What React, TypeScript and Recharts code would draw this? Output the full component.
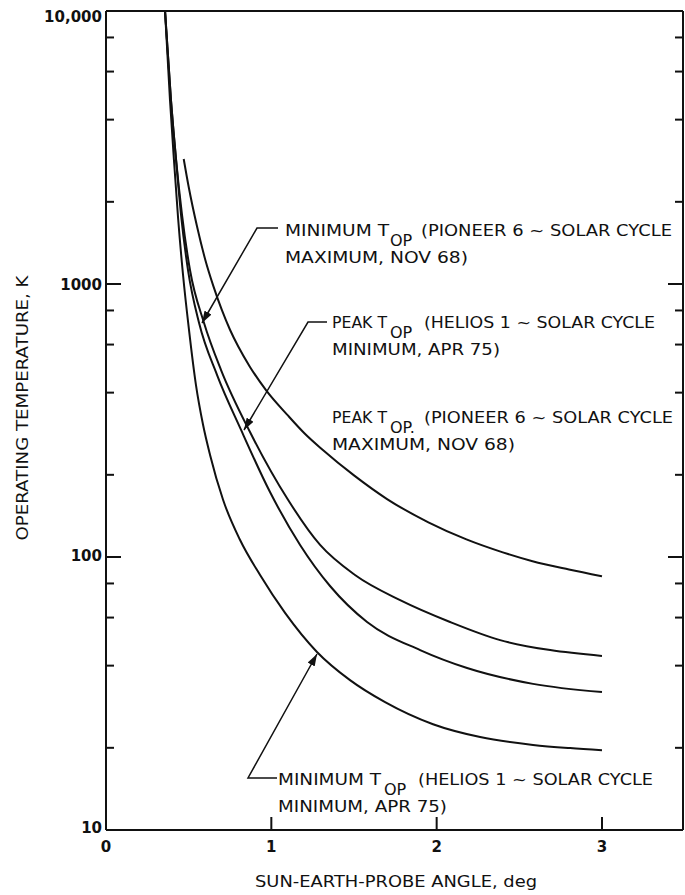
import React from 'react'
import { LineChart, Line, XAxis, YAxis } from 'recharts'

const angleTicks = [0, 1, 2, 3]
const tempMajorTicks = [10, 100, 1000, 10000]
const tempMinorTicks = [20, 40, 60, 80, 200, 400, 600, 800, 2000, 4000, 6000, 8000]

// PEAK T_OP (Pioneer 6, solar cycle maximum, Nov 68)
const peakPioneerAngle = [0.47, 0.5, 0.55, 0.6, 0.65, 0.7, 0.75, 0.8, 0.87, 0.97, 1.1, 1.2, 1.31, 1.5, 1.7, 1.95, 2.18, 2.4, 2.58, 2.8, 3.0]
const peakPioneerTemp = [2870, 2270, 1630, 1230, 980, 805, 680, 590, 498, 407, 330, 284, 247, 199, 163, 134, 116, 104, 96.5, 90, 85]

// MINIMUM T_OP (Pioneer 6, solar cycle maximum, Nov 68)
const minPioneerAngle = [0.357, 0.393, 0.424, 0.46, 0.508, 0.593, 0.696, 0.871, 1.101, 1.295, 1.506, 1.779, 2.081, 2.384, 2.687, 3.0]
const minPioneerTemp = [10000, 4720, 2845, 1789, 1125, 720, 484, 287, 162, 110.7, 85.9, 69.5, 57.8, 49.6, 45.6, 43.4]

// PEAK T_OP (Helios 1, solar cycle minimum, Apr 75)
const peakHeliosAngle = [0.357, 0.393, 0.424, 0.454, 0.496, 0.563, 0.672, 0.817, 0.992, 1.174, 1.355, 1.579, 1.9, 2.184, 2.583, 3.0]
const peakHeliosTemp = [10000, 4720, 2845, 1789, 1125, 720, 464, 292, 173, 110.7, 78.3, 57.8, 45.6, 39.2, 34.3, 32]

// MINIMUM T_OP (Helios 1, solar cycle minimum, Apr 75)
const minHeliosAngle = [0.357, 0.387, 0.411, 0.436, 0.466, 0.502, 0.544, 0.587, 0.629, 0.708, 0.811, 0.932, 1.083, 1.276, 1.476, 1.688, 1.978, 2.263, 2.583, 2.807, 3.0]
const minHeliosTemp = [10000, 4720, 2845, 1745, 1079, 679, 427, 305, 237, 162, 115.4, 85.9, 62.4, 44.9, 35.4, 29.4, 24.4, 21.9, 20.5, 19.95, 19.6]

const toPoints = (xs: number[], ys: number[]) => xs.map((angle, i) => ({ angle, temp: ys[i] }))

const curves = [
  toPoints(peakPioneerAngle, peakPioneerTemp),
  toPoints(minPioneerAngle, minPioneerTemp),
  toPoints(peakHeliosAngle, peakHeliosTemp),
  toPoints(minHeliosAngle, minHeliosTemp),
]

const INK = '#111'
const FONT = '"DejaVu Sans", sans-serif'
const tempLabel = (v: number) => (v === 10000 ? '10,000' : String(v))
const labelDy: Record<number, number> = { 10000: 11, 1000: 6, 100: 4, 10: 3 }

function LeftTick({ x, y, payload }: any) {
  const v = payload.value
  const major = tempMajorTicks.includes(v)
  const edge = v === 10 || v === 10000
  return (
    <g>
      {!edge && <line x1={x} x2={x + (major ? 15 : 8)} y1={y} y2={y} stroke={INK} strokeWidth={2} />}
      {major && (
        <text x={x - 4} y={y + labelDy[v]} textAnchor="end" fontFamily={FONT} fontWeight="bold" fontSize={15} fill={INK}>
          {tempLabel(v)}
        </text>
      )}
    </g>
  )
}

function RightTick({ x, y, payload }: any) {
  const v = payload.value
  if (v === 10 || v === 10000) return <g />
  const major = tempMajorTicks.includes(v)
  return <line x1={x} x2={x - (major ? 15 : 8)} y1={y} y2={y} stroke={INK} strokeWidth={2} />
}

function BottomTick({ x, y, payload }: any) {
  const v = payload.value
  return (
    <g>
      {v !== 0 && <line x1={x} x2={x} y1={y} y2={y - 13} stroke={INK} strokeWidth={2} />}
      <text x={x} y={y + 22} textAnchor="middle" fontFamily={FONT} fontWeight="bold" fontSize={15} fill={INK}>
        {v}
      </text>
    </g>
  )
}

function TopTick({ x, y }: any) {
  return <line x1={x} x2={x} y1={y} y2={y + 12} stroke={INK} strokeWidth={2} />
}

// two-line callout; first line has T with an "OP" subscript
function Note({ x, y, lead, tail, second, subX, subText, tailX, leadW, tailW, secondW }: any) {
  const common = { fontFamily: FONT, fontSize: 16, fill: INK }
  return (
    <g>
      <text x={x} y={y} {...common}>
        <tspan x={x} textLength={leadW} lengthAdjust="spacingAndGlyphs">{lead}</tspan>
        <tspan x={subX} dy={10}>{subText}</tspan>
        <tspan x={tailX} dy={-10} textLength={tailW} lengthAdjust="spacingAndGlyphs">{tail}</tspan>
      </text>
      <text x={x} y={y + 27} textLength={secondW} lengthAdjust="spacingAndGlyphs" {...common}>{second}</text>
    </g>
  )
}

export default function App() {
  return (
    <div style={{ position: 'absolute', left: 0, top: 0, width: 685, height: 895, background: '#fff' }}>
      <LineChart width={685} height={895} margin={{ top: 10, right: 1, bottom: 35, left: 46 }}>
        <XAxis
          xAxisId="b"
          dataKey="angle"
          type="number"
          domain={[0, 3.49]}
          allowDataOverflow
          ticks={angleTicks}
          interval={0}
          tick={<BottomTick />}
          tickSize={0}
          tickMargin={0}
          height={30}
          axisLine={{ stroke: INK, strokeWidth: 2 }}
          tickLine={false}
        />
        <XAxis
          xAxisId="t"
          orientation="top"
          type="number"
          domain={[0, 3.49]}
          allowDataOverflow
          ticks={[1, 2, 3]}
          interval={0}
          tick={<TopTick />}
          tickSize={0}
          tickMargin={0}
          height={1}
          axisLine={{ stroke: INK, strokeWidth: 2 }}
          tickLine={false}
        />
        <YAxis
          yAxisId="l"
          type="number"
          scale="log"
          domain={[10, 10000]}
          allowDataOverflow
          ticks={[...tempMajorTicks, ...tempMinorTicks]}
          interval={0}
          tick={<LeftTick />}
          tickSize={0}
          tickMargin={0}
          width={60}
          axisLine={{ stroke: INK, strokeWidth: 2 }}
          tickLine={false}
        />
        <YAxis
          yAxisId="r"
          orientation="right"
          type="number"
          scale="log"
          domain={[10, 10000]}
          allowDataOverflow
          ticks={[...tempMajorTicks, ...tempMinorTicks]}
          interval={0}
          tick={<RightTick />}
          tickSize={0}
          tickMargin={0}
          width={1}
          axisLine={{ stroke: INK, strokeWidth: 2 }}
          tickLine={false}
        />
        {curves.map((d, i) => (
          <Line
            key={i}
            data={d}
            xAxisId="b"
            yAxisId="l"
            dataKey="temp"
            type="monotone"
            stroke={INK}
            strokeWidth={2}
            dot={false}
            activeDot={false}
            isAnimationActive={false}
          />
        ))}
      </LineChart>
      <svg width={685} height={895} style={{ position: 'absolute', left: 0, top: 0, pointerEvents: 'none' }}>
        <defs>
          <marker id="head" viewBox="0 0 12 8" refX="12" refY="4" markerWidth="12" markerHeight="8" markerUnits="userSpaceOnUse" orient="auto">
            <path d="M0,0 L12,4 L0,8 Z" fill={INK} />
          </marker>
        </defs>
        <polyline points="278,228 257,228 202,323" fill="none" stroke={INK} strokeWidth={1.5} markerEnd="url(#head)" />
        <polyline points="327,322 308,322 244,430" fill="none" stroke={INK} strokeWidth={1.5} markerEnd="url(#head)" />
        <polyline points="277,778 248,778 317,654" fill="none" stroke={INK} strokeWidth={1.5} markerEnd="url(#head)" />
        <Note x={285} y={236} lead="MINIMUM T" leadW={104} subX={390} subText="OP" tailX={421} tail="(PIONEER 6 ~ SOLAR CYCLE" tailW={251} second="MAXIMUM, NOV 68)" secondW={183} />
        <Note x={332} y={328} lead="PEAK T" leadW={55} subX={390} subText="OP" tailX={424} tail="(HELIOS 1 ~ SOLAR CYCLE" tailW={231} second="MINIMUM, APR 75)" secondW={168} />
        <Note x={332} y={423} lead="PEAK T" leadW={55} subX={390} subText="OP." tailX={424} tail="(PIONEER 6 ~ SOLAR CYCLE" tailW={249} second="MAXIMUM, NOV 68)" secondW={183} />
        <Note x={278} y={785} lead="MINIMUM T" leadW={103} subX={384} subText="OP" tailX={418} tail="(HELIOS 1 ~ SOLAR CYCLE" tailW={235} second="MINIMUM, APR 75)" secondW={169} />
        <text x={0} y={0} transform="translate(28,408) rotate(-90)" textAnchor="middle" fontFamily={FONT} fontSize={15} fill={INK} textLength={265} lengthAdjust="spacingAndGlyphs">
          OPERATING TEMPERATURE, K
        </text>
        <text x={396} y={887} textAnchor="middle" fontFamily={FONT} fontSize={15} fill={INK} textLength={282} lengthAdjust="spacingAndGlyphs">
          SUN-EARTH-PROBE ANGLE, deg
        </text>
      </svg>
    </div>
  )
}
